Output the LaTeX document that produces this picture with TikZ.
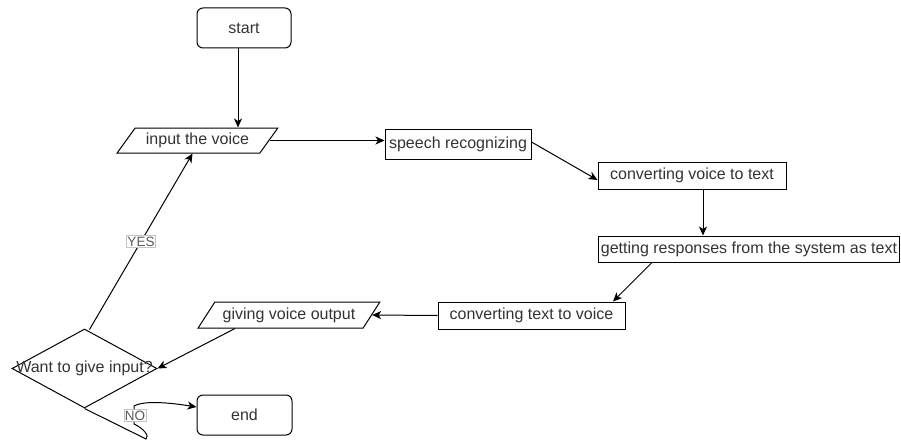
\documentclass[tikz,border=0pt]{standalone}
\usepackage{fontspec}
\setmainfont{Liberation Sans}
\usetikzlibrary{shapes.geometric,arrows.meta}
\definecolor{txt}{HTML}{333333}
\definecolor{lblborder}{HTML}{C4C4C4}
\definecolor{lbltxt}{HTML}{5A5A5A}
\begin{document}
\begin{tikzpicture}[x=1pt,y=-1pt,
  font=\fontsize{16}{19}\selectfont, text=txt,
  base/.style={draw=black, line width=1pt, inner sep=0pt, fill=white},
  term/.style={base, rectangle, rounded corners=6pt},
  proc/.style={base, rectangle},
  io/.style={base, trapezium, trapezium left angle=45, trapezium right angle=135, trapezium stretches=true},
  decide/.style={base, diamond, aspect=1.8},
  arr/.style={draw=black, line width=1pt, -{Stealth[length=9pt,width=8pt,inset=2.5pt]}},
  plain/.style={draw=black, line width=1pt},
  edgelbl/.style={fill=white, draw=lblborder, line width=0.7pt, text=lbltxt, inner sep=1pt, font=\fontsize{13.5}{15}\selectfont}
]
\useasboundingbox (0,0) rectangle (901,441);

\node[term, minimum width=94pt, minimum height=40pt] (start) at (244,28) {start};
\node[io, minimum width=161pt, minimum height=25pt] (input) at (197.5,140.5) {input the voice};
\node[proc, minimum width=146pt, minimum height=30pt] (speech) at (458,144) {speech recognizing};
\node[proc, minimum width=188pt, minimum height=27pt] (cvt) at (692,175.5) {converting voice to text};
\node[proc, minimum width=301pt, minimum height=26pt] (getting) at (749,249) {getting responses from the system as text};
\node[proc, minimum width=187pt, minimum height=27pt] (ctv) at (531.5,315.5) {converting text to voice};
\node[io, minimum width=182pt, minimum height=26pt] (giving) at (289,315) {giving voice output};
\node[decide, minimum width=145pt, minimum height=79pt, label={[text=txt]center:Want to give input?}] (dia) at (84.5,368.5) {};
\node[term, minimum width=95pt, minimum height=40pt] (end) at (244.5,415) {end};

% connectors
\draw[arr] ([xshift=-6pt]start.south) -- ([xshift=-6pt]start.south |- input.north);
\draw[arr] (input.east) -- (speech.west |- input.east);
\draw[arr] ([yshift=2pt]speech.east) -- ([yshift=-4.5pt]cvt.west);
\draw[arr] ([xshift=11pt]cvt.south) -- ([xshift=11pt]cvt.south |- getting.north);
\draw[arr] ([xshift=-97pt]getting.south) -- ([xshift=81.5pt]ctv.north);
\draw[arr] (ctv.west) -- (giving.east);
\draw[arr] ([xshift=-54pt]giving.south) -- (dia.east);
\draw[arr] ([xshift=5pt,yshift=-1pt]dia.north) -- node[edgelbl] (yes) {YES} ([xshift=-5pt]input.south);

% NO branch
\coordinate (nohook) at (146,439);
\coordinate (nolow) at (134,424);
\coordinate (nohigh) at (134,406);
\draw[plain] (dia.south) -- (nohook) .. controls (150,436) and (143,428) .. (nolow) -- (nohigh);
\draw[arr] (nohigh) .. controls (145,400) and (172,403) .. ([yshift=8pt]end.west);
\node[edgelbl] (no) at (135,415.5) {NO};
\end{tikzpicture}
\end{document}
